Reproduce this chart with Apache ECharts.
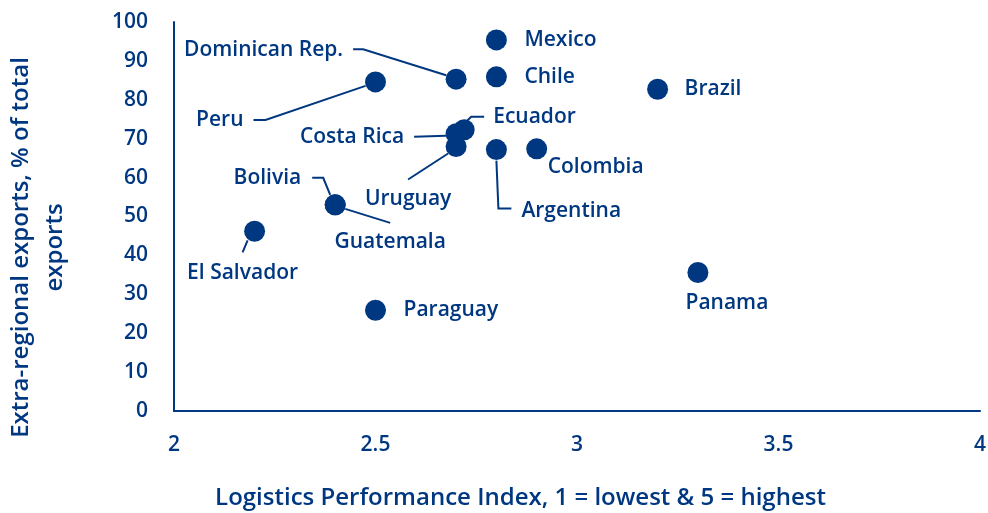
<!DOCTYPE html>
<html>
<head>
<meta charset="utf-8">
<script src="https://cdn.jsdelivr.net/npm/echarts@6/dist/echarts.min.js"></script>
<style>
  html, body { margin: 0; padding: 0; background: #fff; }
  #chart { width: 988px; height: 513px; }
</style>
</head>
<body>
<div id="chart"></div>
<script>
// Data
const countries = ['Mexico', 'Chile', 'Dominican Rep.', 'Peru', 'Brazil', 'Ecuador', 'Costa Rica',
  'Uruguay', 'Argentina', 'Colombia', 'Bolivia', 'Guatemala', 'El Salvador', 'Paraguay', 'Panama'];
const lpi = [2.8, 2.8, 2.7, 2.5, 3.2, 2.72, 2.7, 2.7, 2.8, 2.9, 2.4, 2.4, 2.2, 2.5, 3.3];
const extraRegional = [95.4, 85.9, 85.3, 84.6, 82.7, 72.3, 71.3, 68.0, 67.2, 67.4, 53.0, 53.0, 46.2, 25.9, 35.6];
const xTicks = [2, 2.5, 3, 3.5, 4];

const BLUE = '#003781';
const FONT = 'Open Sans';

// label placement: pixel offset from dot centre + text alignment
const labelPlace = {
  'Mexico': [28, 0, 'left'],
  'Chile': [28, 0, 'left'],
  'Dominican Rep.': [-113, -29, 'right'],
  'Peru': [-132, 38, 'right'],
  'Brazil': [27, 0, 'left'],
  'Ecuador': [29, -13, 'left'],
  'Costa Rica': [-52, 3, 'right'],
  'Uruguay': [-48, 53, 'center'],
  'Argentina': [25, 61, 'left'],
  'Colombia': [11, 18, 'left'],
  'Bolivia': [-34, -27, 'right'],
  'Guatemala': [55, 37, 'center'],
  'El Salvador': [-12, 42, 'center'],
  'Paraguay': [28, 0, 'left'],
  'Panama': [29, 30, 'center']
};

// leader lines, pixel offsets from dot centre
const leaders = {
  'Dominican Rep.': [[-103, -30], [-93, -30], [-10, -4]],
  'Peru': [[-122, 38], [-110, 38], [-10, 4]],
  'Costa Rica': [[-42, 3], [-10, 2]],
  'Ecuador': [[3, -9], [7, -13], [20, -13]],
  'Uruguay': [[-8, 7], [-48, 33]],
  'Argentina': [[0, 11], [2, 59], [15, 59]],
  'Bolivia': [[-23, -27], [-12, -27], [-5, -10]],
  'Guatemala': [[10, 4], [55, 18]],
  'El Salvador': [[-7, 9], [-12, 21]]
};

const points = countries.map((c, i) => ({ name: c, value: [lpi[i], extraRegional[i]] }));

const chart = echarts.init(document.getElementById('chart'), null, { renderer: 'canvas' });

chart.setOption({
  animation: false,
  grid: { left: 174, right: 8, top: 22, bottom: 102, containLabel: false, outerBoundsMode: 'none' },
  xAxis: {
    type: 'value',
    min: xTicks[0],
    max: xTicks[xTicks.length - 1],
    interval: 0.5,
    name: 'Logistics Performance Index, 1 = lowest & 5 = highest',
    nameLocation: 'middle',
    nameGap: 75,
    nameTextStyle: { color: BLUE, fontFamily: FONT, fontSize: 24, fontWeight: 600, padding: [0, 113, 0, 0] },
    axisLine: { show: true, lineStyle: { color: BLUE, width: 2 } },
    axisTick: { show: false },
    splitLine: { show: false },
    axisLabel: { color: BLUE, fontFamily: FONT, fontSize: 21, fontWeight: 600, margin: 24 }
  },
  yAxis: {
    type: 'value',
    min: 0,
    max: 100,
    interval: 10,
    name: 'Extra-regional exports, % of total\nexports',
    nameLocation: 'middle',
    nameGap: 102,
    nameTextStyle: { color: BLUE, fontFamily: FONT, fontSize: 24, fontWeight: 600, lineHeight: 34, padding: [0, 62, 0, 0] },
    axisLine: { show: true, lineStyle: { color: BLUE, width: 2 } },
    axisTick: { show: false },
    splitLine: { show: false },
    axisLabel: { color: BLUE, fontFamily: FONT, fontSize: 21, fontWeight: 600, margin: 26 }
  },
  series: [
    {
      type: 'custom',
      silent: true,
      data: countries.map((c, i) => [lpi[i], extraRegional[i], i]),
      renderItem: function (params, api) {
        const name = countries[api.value(2)];
        const segs = leaders[name];
        if (!segs) return null;
        const p = api.coord([api.value(0), api.value(1)]);
        return {
          type: 'polyline',
          shape: { points: segs.map(o => [p[0] + o[0], p[1] + o[1]]) },
          style: { stroke: BLUE, lineWidth: 2, fill: null }
        };
      }
    },
    {
      type: 'scatter',
      symbolSize: 21,
      itemStyle: { color: BLUE, opacity: 1 },
      data: points,
      label: {
        show: true,
        formatter: '{b}',
        color: BLUE,
        fontFamily: FONT,
        fontSize: 21,
        fontWeight: 600
      },
      labelLayout: function (params) {
        const pl = labelPlace[countries[params.dataIndex]];
        const cx = params.rect.x + params.rect.width / 2;
        const cy = params.rect.y + params.rect.height / 2;
        return { x: cx + pl[0], y: cy + pl[1], align: pl[2], verticalAlign: 'middle' };
      }
    }
  ]
});
</script>
</body>
</html>
